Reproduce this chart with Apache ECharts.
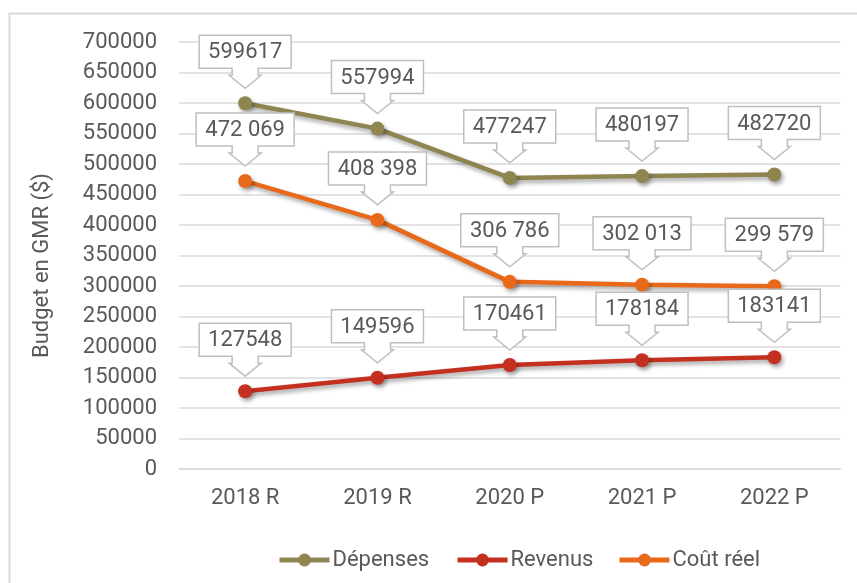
<!DOCTYPE html>
<html><head><meta charset="utf-8">
<script src="https://cdn.jsdelivr.net/npm/echarts@6/dist/echarts.min.js"></script>
<style>html,body{margin:0;padding:0;background:#fff}#c{width:857px;height:583px}</style>
</head><body><div id="c"></div>
<script>
const categories = ['2018 R', '2019 R', '2020 P', '2021 P', '2022 P'];
const depenses = [599617, 557994, 477247, 480197, 482720];
const revenus = [127548, 149596, 170461, 178184, 183141];
const coutReel = [472069, 408398, 306786, 302013, 299579];
const depensesLabels = ['599617', '557994', '477247', '480197', '482720'];
const revenusLabels = ['127548', '149596', '170461', '178184', '183141'];
const coutReelLabels = ['472 069', '408 398', '306 786', '302 013', '299 579'];
const seriesNames = ['Dépenses', 'Revenus', 'Coût réel'];
const yTicks = { min: 0, max: 700000, interval: 50000 };

const FONT = 'Roboto';
const FS = 22;
const TXT = '#595959';
const colors = { dep: '#8E8550', rev: '#C3301F', cout: '#E8691A' };

const cv = document.createElement('canvas').getContext('2d');
cv.font = FS + 'px ' + FONT;

function calloutSeries(values, labels) {
  return {
    type: 'custom',
    z: 10,
    silent: true,
    data: values.map((v, i) => [i, v]),
    renderItem: function (params, api) {
      const i = api.value(0);
      const p = api.coord([i, api.value(1)]);
      const px = p[0], py = p[1];
      const txt = labels[params.dataIndex];
      const w = Math.round(cv.measureText(txt).width + 18);
      const L = px - w / 2, R = px + w / 2;
      const B = py - 35, T = B - 33;
      const path = 'M' + L + ',' + T + ' H' + R + ' V' + B + ' H' + (px + 13) + ' V' + (B + 7) +
        ' H' + (px + 16) + ' L' + px + ',' + (B + 20) + ' L' + (px - 16) + ',' + (B + 7) +
        ' H' + (px - 13) + ' V' + B + ' H' + L + ' Z';
      return {
        type: 'group',
        children: [
          { type: 'path', shape: { pathData: path }, style: { fill: '#fff', stroke: '#BFBFBF', lineWidth: 1.5 } },
          { type: 'text', style: { text: txt, x: px, y: (T + B) / 2 + 1, align: 'center', verticalAlign: 'middle',
            font: FS + 'px ' + FONT, fill: TXT } }
        ]
      };
    }
  };
}

function lineSeries(name, data, color) {
  return {
    name: name, type: 'line', data: data, z: 3,
    symbol: 'circle', symbolSize: 14,
    itemStyle: { color: color, shadowBlur: 4, shadowOffsetX: 2, shadowOffsetY: 3, shadowColor: 'rgba(0,0,0,0.35)' },
    lineStyle: { color: color, width: 4.5, shadowBlur: 4, shadowOffsetX: 2, shadowOffsetY: 3, shadowColor: 'rgba(0,0,0,0.35)' },
    label: { show: false }
  };
}

function legendFor(name, left) {
  return {
    data: [name], left: left, top: 549, padding: 0, itemWidth: 50, itemHeight: 16, itemGap: 0,
    lineStyle: { width: 5, shadowBlur: 0, shadowOffsetX: 0, shadowOffsetY: 0 },
    itemStyle: { shadowBlur: 0, shadowOffsetX: 0, shadowOffsetY: 0 },
    textStyle: { fontSize: FS, color: TXT, fontFamily: FONT, padding: [0, 0, 0, -2] }
  };
}

const chart = echarts.init(document.getElementById('c'), null, { renderer: 'canvas' });
chart.setOption({
  animation: false,
  backgroundColor: '#fff',
  textStyle: { fontFamily: FONT },
  graphic: [{ type: 'rect', shape: { x: 9.5, y: 13.5, width: 900, height: 700 },
    style: { fill: 'none', stroke: '#D9D9D9', lineWidth: 2 }, z: -1 }],
  grid: { left: 179, right: 16.5, top: 42, bottom: 114, containLabel: false },
  legend: [legendFor(seriesNames[0], 277), legendFor(seriesNames[1], 455), legendFor(seriesNames[2], 617)],
  xAxis: {
    type: 'category', data: categories, boundaryGap: true,
    axisLine: { show: true, lineStyle: { color: '#D9D9D9', width: 1.5 } },
    axisTick: { show: false },
    axisLabel: { color: TXT, fontSize: FS, margin: 18, fontFamily: FONT }
  },
  yAxis: {
    type: 'value', min: yTicks.min, max: yTicks.max, interval: yTicks.interval,
    name: 'Budget en GMR ($)', nameLocation: 'middle', nameGap: 126, nameRotate: 90,
    nameTextStyle: { color: TXT, fontSize: FS, fontFamily: FONT, padding: [0, 20, 0, 0] },
    axisLine: { show: false }, axisTick: { show: false },
    axisLabel: { color: TXT, fontSize: FS, margin: 22, fontFamily: FONT, formatter: v => String(v) },
    splitLine: { lineStyle: { color: '#D9D9D9', width: 1.5 } }
  },
  series: [
    lineSeries(seriesNames[0], depenses, colors.dep),
    lineSeries(seriesNames[1], revenus, colors.rev),
    lineSeries(seriesNames[2], coutReel, colors.cout),
    calloutSeries(depenses, depensesLabels),
    calloutSeries(coutReel, coutReelLabels),
    calloutSeries(revenus, revenusLabels)
  ]
});
</script></body></html>
